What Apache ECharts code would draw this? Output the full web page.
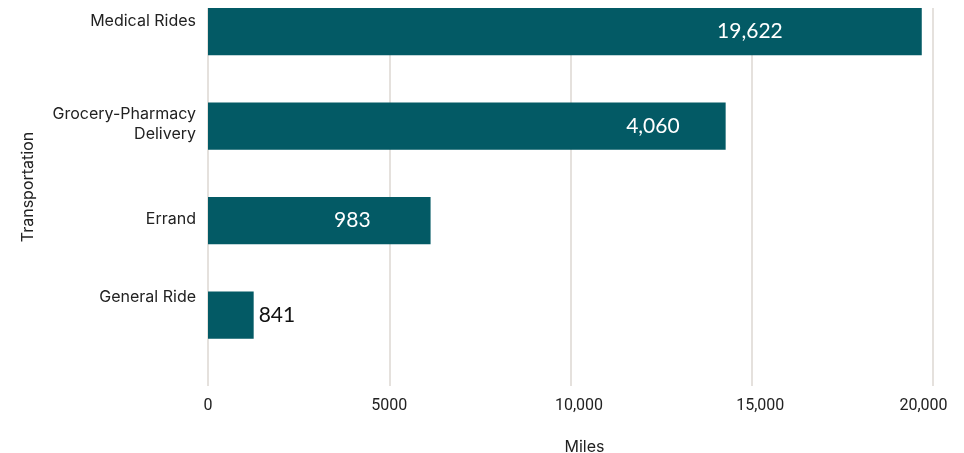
<!DOCTYPE html>
<html>
<head>
<meta charset="utf-8">
<script src="https://cdn.jsdelivr.net/npm/echarts@6/dist/echarts.min.js"></script>
<style>
  html, body { margin: 0; padding: 0; background: #fff; }
  #chart { width: 964px; height: 453px; }
</style>
</head>
<body>
<div id="chart"></div>
<script>
// data
const categories = ['Medical Rides', 'Grocery-Pharmacy\nDelivery', 'Errand', 'General Ride'];
const miles = [19690, 14280, 6140, 1260];
const labelValues = [19622, 4060, 983, 841];
const xMin = 0, xMax = 20000, xStep = 5000;

// label placement tweaks (style only)
const labelInside = [true, true, true, false];
const labelShift = [-134, -41, -55, 0];
const catLift = [68, 52, 50, 84];
const tickNudge = { 10000: 'r', 15000: 'r', 20000: 'l' };

const teal = '#035a65';
const textColor = '#222';
const axisFont = 'Inter';

const chart = echarts.init(document.getElementById('chart'));

const barData = miles.map((v, i) => ({
  value: v,
  label: labelInside[i]
    ? { position: 'insideRight', offset: [labelShift[i], 0], color: '#fff' }
    : { position: 'right', color: '#111' }
}));

// rich styles: one text style plus a spacer line per category to lift the label
const rich = { t: { fontFamily: axisFont, fontSize: 16, color: textColor, lineHeight: 20, align: 'right' } };
catLift.forEach((h, i) => { rich['s' + i] = { height: h, lineHeight: h, fontSize: 1 }; });

const tickText = { fontFamily: 'Roboto', fontSize: 16, color: textColor };

const option = {
  animation: false,
  grid: { left: 208, right: 31, top: 8, bottom: 67, outerBoundsMode: 'none', containLabel: false },
  xAxis: {
    type: 'value',
    min: xMin, max: xMax, interval: xStep,
    name: 'Miles',
    nameLocation: 'middle',
    nameGap: 53,
    nameTextStyle: { fontFamily: axisFont, fontSize: 16, color: textColor, padding: [0, 0, 0, 28] },
    axisLine: { show: false },
    axisTick: { show: false },
    axisLabel: {
      margin: 12,
      formatter: v => {
        const s = v >= 10000 ? v.toLocaleString('en-US') : String(v);
        return '{' + (tickNudge[v] || 'n') + '|' + s + '}';
      },
      rich: {
        n: tickText,
        r: Object.assign({ padding: [0, 0, 0, 17] }, tickText),
        l: Object.assign({ padding: [0, 19, 0, 0] }, tickText)
      }
    },
    splitLine: { show: true, lineStyle: { color: '#dcd7d2', width: 1.5 } }
  },
  yAxis: {
    type: 'category',
    inverse: true,
    data: categories,
    name: 'Transportation',
    nameLocation: 'middle',
    nameGap: 172,
    nameTextStyle: { fontFamily: axisFont, fontSize: 16, color: textColor, padding: [0, 0, 0, 20] },
    axisLine: { show: false },
    axisTick: { show: false },
    axisLabel: {
      margin: 12,
      align: 'right',
      formatter: (v, i) => v.split('\n').map(s => '{t|' + s + '}').join('\n') + '\n{s' + i + '| }',
      rich: rich
    }
  },
  series: [
    {
      type: 'bar',
      name: 'Miles',
      data: barData,
      itemStyle: { color: teal },
      barGap: 0,
      barCategoryGap: 0,
      label: {
        show: true,
        fontFamily: 'Lato',
        fontSize: 21,
        distance: 5,
        formatter: p => labelValues[p.dataIndex].toLocaleString('en-US')
      }
    },
    {
      // empty slot so the bars sit in the upper half of each band
      type: 'bar',
      name: 'spacer',
      data: []
    }
  ]
};

chart.setOption(option);
</script>
</body>
</html>
